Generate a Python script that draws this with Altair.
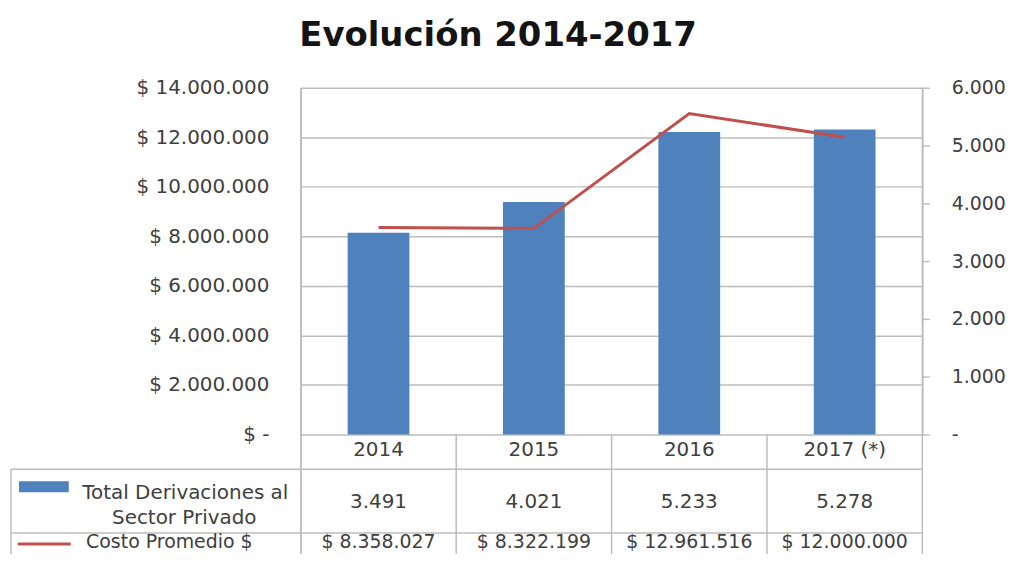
import altair as alt
import pandas as pd

years = ["2014", "2015", "2016", "2017 (*)"]
derivaciones = [3491, 4021, 5233, 5278]
costo = [8358027, 8322199, 12961516, 12000000]
left_ticks = [0, 2000000, 4000000, 6000000, 8000000, 10000000, 12000000, 14000000]
right_ticks = [0, 1000, 2000, 3000, 4000, 5000, 6000]
serie_barras = ["Total Derivaciones al", "Sector Privado"]
serie_linea = "Costo Promedio $"
titulo = "Evolución 2014-2017"

BLUE = "#4f81bd"
RED = "#c0504d"
GRID = "#bdbdbd"
TXT = "#404040"
FONT = "DejaVu Sans"
FS = 20

W, H = 624, 348
LEFT = 294


def fmt(v):
    return f"{v:,}".replace(",", ".")


df = pd.DataFrame({
    "year": years,
    "der": derivaciones,
    "costo": costo,
    "der_lbl": [fmt(v) for v in derivaciones],
    "costo_lbl": ["$ " + fmt(v) for v in costo],
})
one = pd.DataFrame({"k": [0]})

xscale = alt.Scale(paddingInner=0, paddingOuter=0)


def X(**kw):
    return alt.X("year:N", sort=years, scale=xscale, axis=None, **kw)


bars = alt.Chart(df).mark_bar(color=BLUE, size=62).encode(
    x=X(),
    y=alt.Y("der:Q", scale=alt.Scale(domain=[0, 6000], nice=False),
            axis=alt.Axis(orient="right", values=right_ticks, grid=False,
                          title=None, tickSize=7, tickColor=GRID, tickWidth=1.5,
                          domainColor=GRID, domainWidth=1.5, labelPadding=22,
                          labelFont=FONT, labelFontSize=19, labelColor=TXT,
                          labelExpr="datum.value == 0 ? '-' : replace(format(datum.value, ','), ',', '.')")),
)

line = alt.Chart(df).mark_line(color=RED, strokeWidth=3).encode(
    x=X(),
    y=alt.Y("costo:Q", scale=alt.Scale(domain=[0, 14000000], nice=False),
            axis=alt.Axis(orient="left", values=left_ticks, grid=True, gridColor=GRID,
                          gridWidth=1.5, title=None, tickSize=0, domainColor=GRID,
                          domainWidth=1.5, labelPadding=32, labelFont=FONT,
                          labelFontSize=FS, labelColor=TXT,
                          labelExpr="datum.value == 0 ? '$ -' : '$ ' + replace(replace(format(datum.value, ','), ',', '.'), ',', '.')")),
)

main = alt.layer(bars, line).resolve_scale(y="independent")

txt = dict(font=FONT, fontSize=FS, color=TXT, baseline="middle", align="center")
txt_last = dict(txt, fontSize=19)

header = alt.Chart(df).mark_text(**txt).encode(x=X(), y=alt.value(364), text="year:N")
row1 = alt.Chart(df).mark_text(**txt).encode(x=X(), y=alt.value(416), text="der_lbl:N")
row2 = alt.Chart(df).mark_text(**txt_last).encode(x=X(), y=alt.value(456), text="costo_lbl:N")

rule_style = dict(color=GRID, strokeWidth=1.5)
vrules = alt.Chart(df).mark_rule(**rule_style).encode(
    x=X(bandPosition=0), y=alt.value(348), y2=alt.value(500))
vrule_end = alt.Chart(df).transform_filter(
    alt.datum.year == years[-1]).mark_rule(**rule_style).encode(
    x=X(bandPosition=1), y=alt.value(0), y2=alt.value(500))
vrule_start = alt.Chart(df).transform_filter(
    alt.datum.year == years[0]).mark_rule(**rule_style).encode(
    x=X(bandPosition=0), y=alt.value(0), y2=alt.value(500))

h1 = alt.Chart(one).mark_rule(**rule_style).encode(
    x=alt.value(-291), x2=alt.value(W), y=alt.value(383))
h2 = alt.Chart(one).mark_rule(**rule_style).encode(
    x=alt.value(-291), x2=alt.value(W), y=alt.value(447))
vleft = alt.Chart(one).mark_rule(**rule_style).encode(
    x=alt.value(-291), y=alt.value(383), y2=alt.value(500))

key_bar = alt.Chart(one).mark_rect(color=BLUE).encode(
    x=alt.value(-283), x2=alt.value(-233), y=alt.value(395), y2=alt.value(406))
key_line = alt.Chart(one).mark_rule(color=RED, strokeWidth=3).encode(
    x=alt.value(-284), x2=alt.value(-231), y=alt.value(458))
lbl1 = alt.Chart(one).mark_text(**txt).encode(
    x=alt.value(-116), y=alt.value(407), text=alt.value(serie_barras[0]))
lbl2 = alt.Chart(one).mark_text(**txt).encode(
    x=alt.value(-117), y=alt.value(432), text=alt.value(serie_barras[1]))
lbl3 = alt.Chart(one).mark_text(**txt_last).encode(
    x=alt.value(-132), y=alt.value(456), text=alt.value(serie_linea))

title_mark = alt.Chart(one).mark_text(
    font=FONT, fontSize=34, fontWeight="bold", color="#141414",
    align="center", baseline="alphabetic").encode(
    x=alt.value(198), y=alt.value(-42), text=alt.value(titulo))

chart = alt.layer(
    main, header, row1, row2, vrules, vrule_end, vrule_start, h1, h2, vleft,
    key_bar, key_line, lbl1, lbl2, lbl3, title_mark,
).resolve_scale(y="independent").properties(
    width=W, height=H,
    padding={"left": LEFT, "top": 79, "right": 86, "bottom": 119},
    autosize=alt.AutoSizeParams(type="none"),
    background="white",
).configure_view(stroke=None)

chart.save("out.html", embed_options={"renderer": "svg", "actions": False})
